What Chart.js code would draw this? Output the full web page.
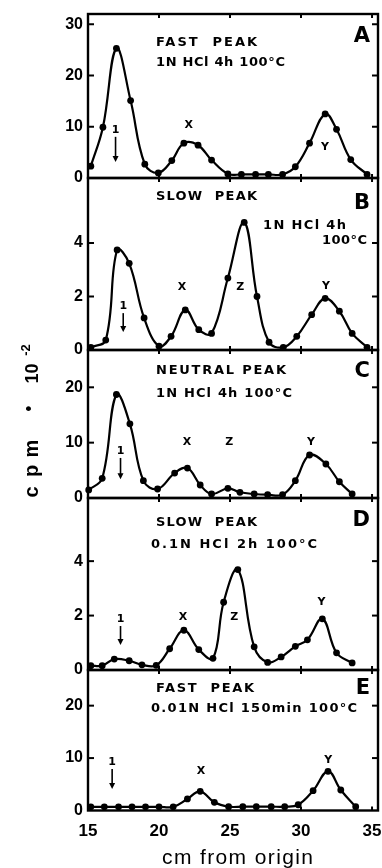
<!DOCTYPE html>
<html>
<head>
<meta charset="utf-8">
<script src="https://cdn.jsdelivr.net/npm/chart.js@4/dist/chart.umd.min.js"></script>
<style>
  html, body { margin: 0; padding: 0; background: #fff; }
  canvas { display: block; }
</style>
</head>
<body>
<canvas id="chart" width="382" height="868"></canvas>
<script>
// Radioactivity profiles along the strip: distance from origin (cm) vs cpm x 10^-2

// A - fast peak, 1N HCl 4h 100°C
const xA = [15.2, 16.05, 17.0, 18.0, 19.0, 19.95, 20.9, 21.75, 22.75, 23.7, 24.85, 25.8, 26.8, 27.7, 28.7, 29.6, 30.6, 31.7, 32.5, 33.5, 34.65];
const yA = [2.3, 9.9, 25.3, 15.1, 2.7, 1.0, 3.4, 6.8, 6.4, 3.5, 0.8, 0.7, 0.7, 0.7, 0.7, 2.2, 6.8, 12.5, 9.5, 3.6, 0.7];

// B - slow peak, 1N HCl 4h 100°C
const xB = [15.2, 16.25, 17.05, 17.9, 18.95, 20.0, 20.85, 21.85, 22.8, 23.7, 24.85, 26.0, 26.9, 27.75, 28.75, 29.7, 30.75, 31.7, 32.7, 33.6, 34.65];
const yB = [0.1, 0.37, 3.74, 3.24, 1.2, 0.14, 0.51, 1.5, 0.76, 0.62, 2.69, 4.77, 2.0, 0.29, 0.1, 0.51, 1.32, 1.93, 1.45, 0.62, 0.1];

// C - neutral peak, 1N HCl 4h 100°C
const xC = [15.05, 16.0, 17.0, 17.95, 18.9, 19.9, 21.1, 22.0, 22.9, 23.7, 24.85, 25.7, 26.7, 27.65, 28.7, 29.6, 30.6, 31.75, 32.7, 33.6];
const yC = [1.45, 3.56, 18.7, 13.4, 3.13, 1.63, 4.5, 5.4, 2.35, 0.72, 1.75, 1.03, 0.72, 0.6, 0.6, 3.13, 7.77, 6.14, 2.94, 0.72];

// D - slow peak, 0.1N HCl 2h 100°C
const xD = [15.2, 16.0, 16.85, 17.9, 18.8, 19.8, 20.75, 21.75, 22.8, 23.8, 24.55, 25.55, 26.7, 27.65, 28.6, 29.6, 30.45, 31.5, 32.5, 33.6];
const yD = [0.16, 0.16, 0.4, 0.34, 0.19, 0.17, 0.78, 1.46, 0.75, 0.43, 2.49, 3.69, 0.85, 0.28, 0.48, 0.87, 1.11, 1.88, 0.63, 0.26];

// E - fast peak, 0.01N HCl 150min 100°C
const xE = [15.2, 16.15, 17.15, 18.1, 19.05, 20.0, 21.0, 22.0, 22.9, 23.9, 24.9, 25.9, 26.85, 27.9, 28.85, 29.8, 30.85, 31.9, 32.8, 33.85];
const yE = [0.7, 0.7, 0.7, 0.7, 0.7, 0.7, 0.7, 2.2, 3.66, 1.56, 0.73, 0.73, 0.73, 0.73, 0.73, 1.1, 3.78, 7.48, 3.91, 0.73];

// Tick values
const xTickValues = [15, 20, 25, 30, 35];
const yTicksA = [0, 10, 20, 30];
const yTicksB = [0, 2, 4];
const yTicksC = [0, 10, 20];
const yTicksD = [0, 2, 4];
const yTicksE = [0, 10, 20];

// Panel titles
const titlesA = ['FAST  PEAK', '1N HCl 4h 100°C'];
const titlesB = ['SLOW  PEAK', '1N HCl 4h', '100°C'];
const titlesC = ['NEUTRAL PEAK', '1N HCl 4h 100°C'];
const titlesD = ['SLOW  PEAK', '0.1N HCl 2h 100°C'];
const titlesE = ['FAST  PEAK', '0.01N HCl 150min 100°C'];

// ---- layout of the five stacked panels (top to bottom) ----
const panels = [
  { id: 'A', xs: xA, ys: yA, ticks: yTicksA, max: 32,    h: 164,   order: 5,
    titles: titlesA, titlePos: [[156, 29, 101], [156, 49, 129]], letterDy: 23,
    peaks: [['X', 22.09, 10.3], ['Y', 31.68, 6.05]], arrow: [16.94, 9.4, 3.1] },
  { id: 'B', xs: xB, ys: yB, ticks: yTicksB, max: 6.43,  h: 172,   order: 4,
    titles: titlesB, titlePos: [[156, 19, 101], [263, 48, 83], [322, 63, 45]], letterDy: 26,
    peaks: [['X', 21.62, 2.36], ['Z', 25.72, 2.36], ['Y', 31.75, 2.39]], arrow: [17.48, 1.64, 0.67] },
  { id: 'C', xs: xC, ys: yC, ticks: yTicksC, max: 26.74, h: 148,   order: 3,
    titles: titlesC, titlePos: [[156, 21, 130], [156, 44, 136]], letterDy: 22,
    peaks: [['X', 21.97, 10.1], ['Z', 24.94, 10.1], ['Y', 30.7, 10.1]], arrow: [17.29, 8.5, 3.4] },
  { id: 'D', xs: xD, ys: yD, ticks: yTicksD, max: 6.32,  h: 172,   order: 2,
    titles: titlesD, titlePos: [[156, 25, 101], [151, 47, 166]], letterDy: 23,
    peaks: [['X', 21.69, 1.95], ['Z', 25.29, 1.95], ['Y', 31.44, 2.5]], arrow: [17.29, 1.875, 0.92] },
  { id: 'E', xs: xE, ys: yE, ticks: yTicksE, max: 26.8,  h: 140.5, order: 1,
    titles: titlesE, titlePos: [[156, 19, 98], [151, 39, 206]], letterDy: 19,
    peaks: [['X', 22.95, 7.54], ['Y', 31.91, 9.64]], arrow: [16.7, 9.26, 4.1] }
];

const tickFont = { family: 'Liberation Sans', size: 16, weight: 'bold' };

const datasets = panels.map(p => ({
  label: p.id,
  data: p.xs.map((x, i) => ({ x: x, y: p.ys[i] })),
  xAxisID: 'x',
  yAxisID: 'y' + p.id,
  borderColor: '#000',
  borderWidth: 2.2,
  backgroundColor: '#000',
  pointRadius: 3.4,
  pointBorderWidth: 0,
  pointBackgroundColor: '#000',
  tension: 0.4,
  fill: false,
  clip: false
}));

const scales = {
  x: {
    type: 'linear', position: 'bottom', min: 15, max: 35.42,
    grid: { display: false, drawTicks: false }, border: { display: false },
    ticks: { font: { family: 'Liberation Sans', size: 17, weight: 'bold' }, color: '#000', padding: 11,
             maxRotation: 0, autoSkip: false, includeBounds: false },
    afterBuildTicks: s => { s.ticks = xTickValues.map(v => ({ value: v })); },
    afterFit: s => { s.height = 57.5; s.paddingLeft = 0; s.paddingRight = 0; }
  }
};
panels.forEach(p => {
  scales['y' + p.id] = {
    type: 'linear', position: 'left', stack: 'panels', stackWeight: p.h, weight: p.order,
    min: 0, max: p.max,
    grid: { display: false, drawTicks: false }, border: { display: false },
    ticks: { font: tickFont, color: '#000', padding: 5, includeBounds: false, autoSkip: false },
    afterBuildTicks: s => { s.ticks = p.ticks.map(v => ({ value: v })); },
    afterFit: s => { s.width = 88; s.paddingTop = 0; s.paddingBottom = 0; }
  };
});

function line(ctx, x1, y1, x2, y2) {
  ctx.beginPath(); ctx.moveTo(x1, y1); ctx.lineTo(x2, y2); ctx.stroke();
}

// Draw text starting at `left`, spread so it spans `width` pixels
function spreadText(ctx, text, left, y, width) {
  ctx.letterSpacing = '0px';
  const w = ctx.measureText(text).width;
  const n = [...text].length;
  const sp = n > 1 ? (width - w) / (n - 1) : 0;
  ctx.letterSpacing = sp.toFixed(2) + 'px';
  ctx.textAlign = 'left';
  ctx.fillText(text, left, y);
  ctx.letterSpacing = '0px';
}

const frames = {
  id: 'frames',
  afterDatasetsDraw(chart) {
    const ctx = chart.ctx;
    const area = chart.chartArea;
    const xs = chart.scales.x;
    ctx.save();
    ctx.strokeStyle = '#000';
    ctx.fillStyle = '#000';
    ctx.lineCap = 'butt';

    panels.forEach(p => {
      const s = chart.scales['y' + p.id];
      // panel frame
      ctx.lineWidth = 2.4;
      ctx.strokeRect(area.left, s.top, area.right - area.left, s.bottom - s.top);
      // inward tick marks
      ctx.lineWidth = 2;
      s.ticks.forEach(t => {
        if (t.value === 0) return;
        const py = s.getPixelForValue(t.value);
        line(ctx, area.left, py, area.left + 6, py);
        line(ctx, area.right - 6, py, area.right, py);
      });
      xs.ticks.forEach(t => {
        const px = xs.getPixelForValue(t.value);
        if (px <= area.left + 2 || px >= area.right - 2) return;
        line(ctx, px, s.top, px, s.top + 4);
        line(ctx, px, s.bottom - 4, px, s.bottom);
      });

      // titles
      ctx.font = 'bold 13px "DejaVu Sans"';
      ctx.textBaseline = 'middle';
      p.titles.forEach((t, i) => {
        const [left, dy, width] = p.titlePos[i];
        spreadText(ctx, t, left, s.top + dy, width);
      });
      // panel letter
      ctx.font = 'bold 21px "DejaVu Sans"';
      ctx.textAlign = 'right';
      ctx.fillText(p.id, 370, s.top + p.letterDy);

      // peak names
      ctx.font = 'bold 11px "DejaVu Sans"';
      ctx.textAlign = 'center';
      p.peaks.forEach(([name, xv, yv]) => {
        ctx.fillText(name, xs.getPixelForValue(xv), s.getPixelForValue(yv));
      });

      // application mark with arrow
      const [ax, ylab, ytip] = p.arrow;
      const px = xs.getPixelForValue(ax);
      const pyLab = s.getPixelForValue(ylab);
      const pyTip = s.getPixelForValue(ytip);
      ctx.font = 'bold 11px "DejaVu Sans"';
      ctx.fillText('1', px, pyLab);
      ctx.lineWidth = 1.6;
      line(ctx, px, pyLab + 7, px, pyTip - 5);
      ctx.beginPath();
      ctx.moveTo(px - 3, pyTip - 6);
      ctx.lineTo(px + 3, pyTip - 6);
      ctx.lineTo(px, pyTip);
      ctx.closePath();
      ctx.fill();
    });

    // x axis title
    ctx.font = '21px "Liberation Sans"';
    ctx.textBaseline = 'middle';
    spreadText(ctx, 'cm from origin', 162, 858, 151);

    // y axis title, rotated
    ctx.save();
    ctx.translate(37.5, 0);
    ctx.rotate(-Math.PI / 2);
    ctx.textBaseline = 'alphabetic';
    ctx.textAlign = 'center';
    ctx.font = 'bold 20px "Liberation Sans"';
    [['c', 492], ['p', 471], ['m', 448.5]].forEach(([t, y]) => ctx.fillText(t, -y, 0));
    ctx.font = '18px "Liberation Sans"';
    ctx.fillText('•', -408.5, -3);
    ctx.font = 'bold 18px "Liberation Sans"';
    ctx.fillText('10', -373.5, 0);
    ctx.font = 'bold 13px "Liberation Sans"';
    ctx.fillText('-2', -350, -8);
    ctx.restore();

    ctx.restore();
  }
};

new Chart(document.getElementById('chart'), {
  type: 'line',
  data: { datasets: datasets },
  options: {
    responsive: false,
    animation: false,
    events: [],
    devicePixelRatio: 1,
    layout: { padding: { top: 14, right: 3, left: 0, bottom: 0 } },
    plugins: { legend: { display: false }, tooltip: { enabled: false }, title: { display: false } },
    scales: scales
  },
  plugins: [frames]
});
</script>
</body>
</html>
